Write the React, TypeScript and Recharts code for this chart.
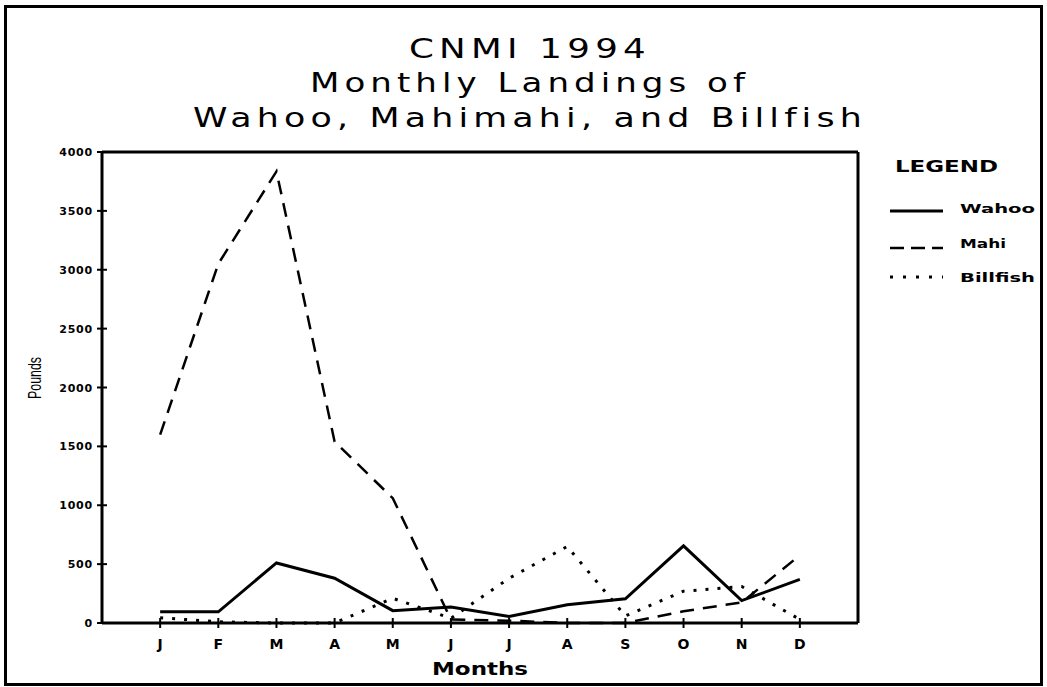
import React from 'react';
import { LineChart, Line, XAxis, YAxis, ReferenceLine } from 'recharts';

const monthLabels = ['J', 'F', 'M', 'A', 'M', 'J', 'J', 'A', 'S', 'O', 'N', 'D'];
const monthPos = [1, 2, 3, 4, 5, 6, 7, 8, 9, 10, 11, 12];
const wahoo = [95, 95, 510, 380, 105, 135, 55, 155, 205, 655, 190, 370];
const mahi = [1600, 3050, 3835, 1540, 1060, 30, 20, 0, 0, 100, 175, 575];
const billfish = [45, 10, 0, 0, 210, 40, 380, 650, 60, 270, 310, 30];
const yTicks = [0, 500, 1000, 1500, 2000, 2500, 3000, 3500, 4000];
const titleLines = ['CNMI 1994', 'Monthly Landings of', 'Wahoo, Mahimahi, and Billfish'];
const seriesNames = ['Wahoo', 'Mahi', 'Billfish'];

const data = monthPos.map((x, i) => ({
  x,
  wahoo: wahoo[i],
  mahi: mahi[i],
  billfish: billfish[i],
}));

const BOLD = '"DejaVu Sans", sans-serif';

const Y_SIZE = 5;
const Y_MARGIN = 4;
const YTick = (props: any) => {
  const { x, y, payload } = props;
  const ax = x + Y_SIZE + Y_MARGIN;
  return (
    <g>
      <line x1={ax} x2={ax + 5} y1={y} y2={y} stroke="#000" strokeWidth={2} />
      <text x={x} y={y} dy={4} textAnchor="end" fontFamily={BOLD} fontWeight="bold" fontSize={11} letterSpacing={0.8} fill="#000">
        {payload.value}
      </text>
    </g>
  );
};

const X_SIZE = 5;
const X_MARGIN = 2;
const XTick = (props: any) => {
  const { x, y, payload } = props;
  const ay = y - X_SIZE - X_MARGIN;
  return (
    <g>
      <line x1={x} x2={x} y1={ay} y2={ay - 5} stroke="#000" strokeWidth={2} />
      <text x={x} y={y} dy={19} textAnchor="middle" fontFamily={BOLD} fontWeight="bold" fontSize={14} fill="#000">
        {monthLabels[payload.value - 1]}
      </text>
    </g>
  );
};

const legendStyles = [
  { dash: undefined, w: 3 },
  { dash: '14 7', w: 2.5 },
  { dash: '3 10', w: 3 },
];

const LegendBox = () => (
  <svg width={177} height={150} style={{ position: 'absolute', left: 870, top: 150, display: 'block' }}>
    <text x={25} y={22} fontFamily={BOLD} fontWeight="bold" fontSize={16} textLength={103} lengthAdjust="spacingAndGlyphs" fill="#000">
      LEGEND
    </text>
    {seriesNames.map((n, i) => {
      const ly = [61, 98, 127][i];
      const ty = [63, 98, 132][i];
      const tw = [75, 46, 75][i];
      return (
        <g key={n}>
          <line x1={20} x2={73} y1={ly} y2={ly} stroke="#000" strokeWidth={legendStyles[i].w} strokeDasharray={legendStyles[i].dash} />
          <text x={90} y={ty} fontFamily={BOLD} fontWeight="bold" fontSize={13} textLength={tw} lengthAdjust="spacingAndGlyphs" fill="#000">
            {n}
          </text>
        </g>
      );
    })}
  </svg>
);

export default function App() {
  return (
    <div style={{ position: 'absolute', left: 0, top: 0, width: 1047, height: 687, background: '#fff' }}>
      <div style={{ position: 'absolute', left: 4, top: 5, width: 1033, height: 675, border: '3px solid #000' }} />
      <svg width={1047} height={140} style={{ position: 'absolute', left: 0, top: 0, pointerEvents: 'none' }}>
        {titleLines.map((t, i) => (
          <text
            key={i}
            x={530}
            y={[58, 92, 127][i]}
            textAnchor="middle"
            fontFamily='"DejaVu Sans", sans-serif'
            fontSize={27}
            letterSpacing={4}
            textLength={[242, 440, 674][i]}
            lengthAdjust="spacingAndGlyphs"
            fill="#000"
          >
            {t}
          </text>
        ))}
      </svg>
      <svg width={60} height={120} style={{ position: 'absolute', left: 0, top: 320 }}>
        <text
          x={0}
          y={0}
          transform="translate(41,58) rotate(-90)"
          textAnchor="middle"
          fontFamily='"Liberation Sans Narrow", "Liberation Sans", sans-serif'
          fontSize={18}
          textLength={42}
          lengthAdjust="spacingAndGlyphs"
          fill="#000"
        >
          Pounds
        </text>
      </svg>
      <svg width={200} height={30} style={{ position: 'absolute', left: 380, top: 655 }}>
        <text x={100} y={20} textAnchor="middle" fontFamily={BOLD} fontWeight="bold" fontSize={18} textLength={96} lengthAdjust="spacingAndGlyphs" fill="#000">
          Months
        </text>
      </svg>
      <LegendBox />
      <div style={{ position: 'absolute', left: 0, top: 0 }}>
        <LineChart width={1047} height={687} data={data} margin={{ top: 152, right: 189, bottom: 24, left: 42 }}>
          <XAxis
            dataKey="x"
            type="number"
            domain={[0, 13]}
            ticks={monthPos}
            interval={0}
            height={40}
            tickSize={X_SIZE}
            tickMargin={X_MARGIN}
            tick={<XTick />}
            tickLine={{ stroke: '#000', strokeWidth: 2 }}
            axisLine={{ stroke: '#000', strokeWidth: 3 }}
          />
          <YAxis
            domain={[0, 4000]}
            ticks={yTicks}
            interval={0}
            width={60}
            tickSize={Y_SIZE}
            tickMargin={Y_MARGIN}
            tick={<YTick />}
            tickLine={{ stroke: '#000', strokeWidth: 2 }}
            axisLine={{ stroke: '#000', strokeWidth: 3 }}
          />
          <ReferenceLine y={4000} stroke="#000" strokeWidth={3} />
          <ReferenceLine x={13} stroke="#000" strokeWidth={3} />
          <Line dataKey="wahoo" name="Wahoo" type="linear" stroke="#000" strokeWidth={3} dot={false} activeDot={false} isAnimationActive={false} />
          <Line dataKey="mahi" name="Mahi" type="linear" stroke="#000" strokeWidth={2.5} strokeDasharray="14 9" dot={false} activeDot={false} isAnimationActive={false} />
          <Line dataKey="billfish" name="Billfish" type="linear" stroke="#000" strokeWidth={3} strokeDasharray="3 9" dot={false} activeDot={false} isAnimationActive={false} />
        </LineChart>
      </div>
    </div>
  );
}
